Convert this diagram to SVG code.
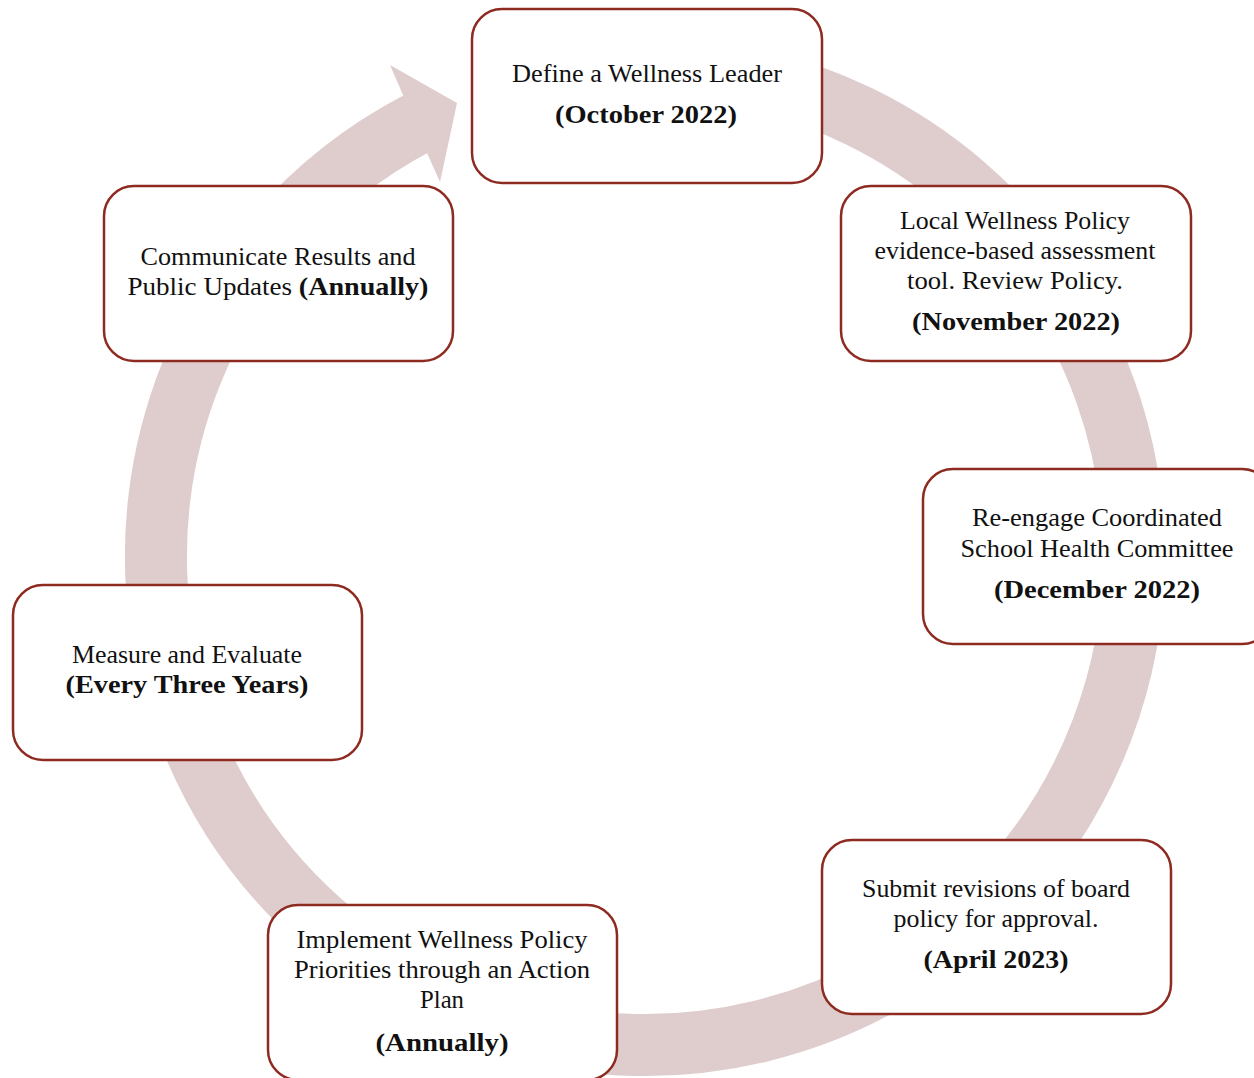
<svg xmlns="http://www.w3.org/2000/svg" width="1254" height="1078" viewBox="0 0 1254 1078">
<style>
.box{fill:#ffffff;stroke:#8e2b21;stroke-width:2.5}
.t{font-family:"Liberation Serif","Times New Roman",serif;font-size:25px;fill:#111111;text-anchor:middle}
.b{font-weight:bold;font-size:26px}
.ring{fill:none;stroke:#dfcccd;stroke-width:62}
.head{fill:#dfcccd}
</style>
<rect width="1254" height="1078" fill="#ffffff"/>
<g id="connectors">
<path class="ring" d="M 645 67 A 489 489 0 1 1 417.7 123"/>
<polygon class="head" points="390,65 457,103 440,182 427,153 403,95"/>
</g>
<g id="node-define">
<rect class="box" x="472" y="9" width="350" height="174" rx="30"/>
<text class="t" x="647" y="82" textLength="270" lengthAdjust="spacingAndGlyphs">Define a Wellness Leader</text>
<text class="t b" x="646" y="123" textLength="182" lengthAdjust="spacingAndGlyphs">(October 2022)</text>
</g>
<g id="node-local">
<rect class="box" x="841" y="186" width="350" height="175" rx="30"/>
<text class="t" x="1015" y="229" textLength="230" lengthAdjust="spacingAndGlyphs">Local Wellness Policy</text>
<text class="t" x="1015" y="259" textLength="281" lengthAdjust="spacingAndGlyphs">evidence-based assessment</text>
<text class="t" x="1015" y="289" textLength="216" lengthAdjust="spacingAndGlyphs">tool. Review Policy.</text>
<text class="t b" x="1016" y="330" textLength="208" lengthAdjust="spacingAndGlyphs">(November 2022)</text>
</g>
<g id="node-reengage">
<rect class="box" x="923" y="469" width="349" height="175" rx="30"/>
<text class="t" x="1097" y="526" textLength="250" lengthAdjust="spacingAndGlyphs">Re-engage Coordinated</text>
<text class="t" x="1097" y="557" textLength="273" lengthAdjust="spacingAndGlyphs">School Health Committee</text>
<text class="t b" x="1097" y="598" textLength="206" lengthAdjust="spacingAndGlyphs">(December 2022)</text>
</g>
<g id="node-submit">
<rect class="box" x="822" y="840" width="349" height="174" rx="30"/>
<text class="t" x="996" y="897" textLength="268" lengthAdjust="spacingAndGlyphs">Submit revisions of board</text>
<text class="t" x="996" y="927" textLength="205" lengthAdjust="spacingAndGlyphs">policy for approval.</text>
<text class="t b" x="996" y="968" textLength="145" lengthAdjust="spacingAndGlyphs">(April 2023)</text>
</g>
<g id="node-implement">
<rect class="box" x="268" y="905" width="349" height="175" rx="30"/>
<text class="t" x="442" y="948" textLength="291" lengthAdjust="spacingAndGlyphs">Implement Wellness Policy</text>
<text class="t" x="442" y="978" textLength="296" lengthAdjust="spacingAndGlyphs">Priorities through an Action</text>
<text class="t" x="442" y="1008" textLength="44" lengthAdjust="spacingAndGlyphs">Plan</text>
<text class="t b" x="442" y="1051" textLength="133" lengthAdjust="spacingAndGlyphs">(Annually)</text>
</g>
<g id="node-measure">
<rect class="box" x="13" y="585" width="349" height="175" rx="30"/>
<text class="t" x="187" y="663" textLength="230" lengthAdjust="spacingAndGlyphs">Measure and Evaluate</text>
<text class="t b" x="187" y="693" textLength="243" lengthAdjust="spacingAndGlyphs">(Every Three Years)</text>
</g>
<g id="node-communicate">
<rect class="box" x="104" y="186" width="349" height="175" rx="30"/>
<text class="t" x="278" y="265" textLength="275" lengthAdjust="spacingAndGlyphs">Communicate Results and</text>
<text class="t" x="278" y="295" textLength="301" lengthAdjust="spacingAndGlyphs">Public Updates <tspan class="b">(Annually)</tspan></text>
</g>
</svg>
